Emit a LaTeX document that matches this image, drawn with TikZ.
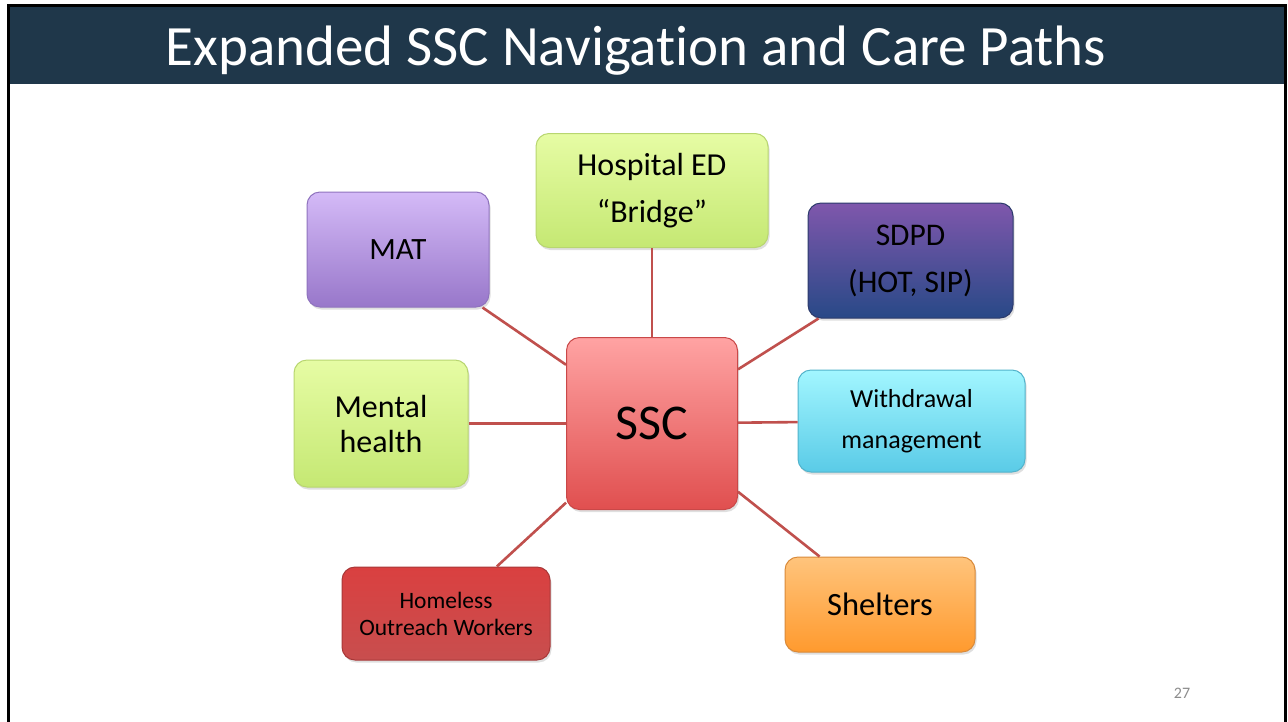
\documentclass[tikz,border=0pt]{standalone}
\usepackage{fontspec}
\setmainfont[Ligatures={TeX,NoCommon}]{Carlito}
\usetikzlibrary{shadows}

\definecolor{titlebg}{HTML}{1F374A}
\definecolor{linkred}{HTML}{C0504D}
\definecolor{pagegray}{HTML}{8C8C8C}
\definecolor{greentop}{HTML}{E6FCA4}
\definecolor{greenbot}{HTML}{C5E873}
\definecolor{greenline}{HTML}{B8D670}
\definecolor{mattop}{HTML}{D4BAF7}
\definecolor{matbot}{HTML}{9877CA}
\definecolor{matline}{HTML}{8F73BE}
\definecolor{sdpdtop}{HTML}{7F57AC}
\definecolor{sdpdbot}{HTML}{284987}
\definecolor{sdpdline}{HTML}{2C3B6C}
\definecolor{wdtop}{HTML}{A2F6FF}
\definecolor{wdbot}{HTML}{5ACBE7}
\definecolor{wdline}{HTML}{52B3CB}
\definecolor{ssctop}{HTML}{FFA3A3}
\definecolor{sscbot}{HTML}{E04F4F}
\definecolor{sscline}{HTML}{C94848}
\definecolor{hometop}{HTML}{DA4040}
\definecolor{homebot}{HTML}{C84E4E}
\definecolor{homeline}{HTML}{A83838}
\definecolor{sheltop}{HTML}{FFC47C}
\definecolor{shelbot}{HTML}{FF9A2E}
\definecolor{shelline}{HTML}{D98A3A}

\begin{document}
\begin{tikzpicture}[x=1pt,y=-1pt,
        box/.style={rounded corners=13pt, align=center, inner sep=0pt, line width=1pt,
            drop shadow={opacity=0.25, shadow xshift=1.5pt, shadow yshift=-2.5pt}},
        link/.style={draw=linkred, line width=2.6pt}]
        \useasboundingbox (0,0) rectangle (1288,721);
        \fill[white] (0,0) rectangle (1288,721);

        % title bar and frame
        \fill[titlebg] (10,7) rectangle (1284,84);
        \draw[line width=3pt] (8.5,730) -- (8.5,5.5) -- (1285.5,5.5) -- (1285.5,730);
        \node[anchor=base, text=white, font=\fontsize{57}{60}\selectfont] (title) at (636,65) {Expanded SSC Navigation and Care Paths};

        % boxes
        \node[box, draw=greenline, top color=greentop, bottom color=greenbot,
            minimum width=232pt, minimum height=114pt, font=\fontsize{32}{47}\selectfont] (hosp) at (652,190.5) {Hospital ED\\“Bridge”};
        \node[box, draw=matline, top color=mattop, bottom color=matbot,
            minimum width=182pt, minimum height=115pt, font=\fontsize{31}{35}\selectfont] (mat) at (398,249.5) {MAT};
        \node[box, draw=sdpdline, top color=sdpdtop, bottom color=sdpdbot,
            minimum width=205pt, minimum height=115pt, font=\fontsize{31.5}{47}\selectfont] (sdpd) at (910.5,260.5) {SDPD\\(HOT, SIP)};
        \node[box, draw=greenline, top color=greentop, bottom color=greenbot,
            minimum width=174pt, minimum height=127pt, font=\fontsize{32}{35}\selectfont] (mental) at (381,423.5) {Mental\\health};
        \node[box, draw=sscline, top color=ssctop, bottom color=sscbot,
            minimum width=171pt, minimum height=172pt, font=\fontsize{50}{55}\selectfont] (ssc) at (652,423.5) {SSC};
        \node[box, draw=wdline, top color=wdtop, bottom color=wdbot,
            minimum width=227pt, minimum height=102pt, font=\fontsize{26}{41}\selectfont] (withdr) at (911.5,421) {Withdrawal\\management};
        \node[box, draw=homeline, top color=hometop, bottom color=homebot,
            minimum width=208pt, minimum height=93pt, font=\fontsize{23.5}{27}\selectfont] (homeless) at (446,613.5) {Homeless\\Outreach Workers};
        \node[box, draw=shelline, top color=sheltop, bottom color=shelbot,
            minimum width=190pt, minimum height=95pt, font=\fontsize{32.5}{35}\selectfont] (shelters) at (880,604.5) {Shelters};

        % connectors
        \foreach \p in {hosp,mat,sdpd,mental,withdr,homeless,shelters}
            \draw[link] (ssc) -- (\p);

        \node[text=pagegray, font=\fontsize{16}{18}\selectfont] (pagenum) at (1182,693) {27};
    \end{tikzpicture}
\end{document}
